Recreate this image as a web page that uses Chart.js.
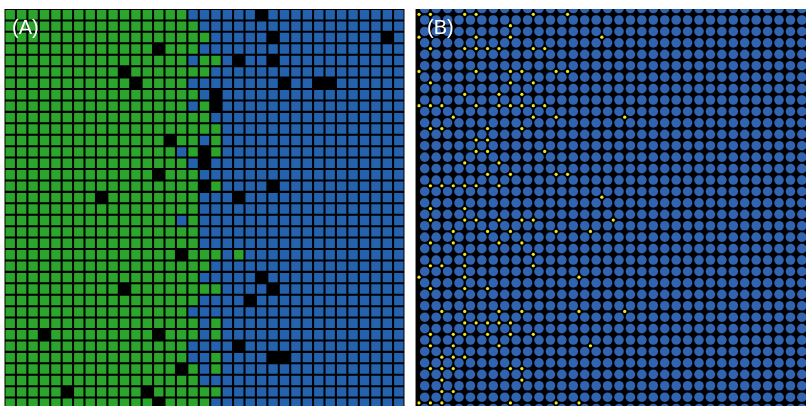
<!DOCTYPE html>
<html>
<head>
<meta charset="utf-8">
<script src="https://cdn.jsdelivr.net/npm/chart.js@4.4.1/dist/chart.umd.min.js"></script>
<style>
  html, body { margin: 0; padding: 0; background: #ffffff; width: 806px; height: 406px; overflow: hidden; }
  .panel { position: absolute; top: 0; }
  #panelA { left: 0; width: 410px; height: 406px; }
  #panelB { left: 410px; width: 396px; height: 406px; }
  .tag { position: absolute; top: 17px; color: #ffffff; font: 20px/20px "Liberation Sans", Arial, sans-serif; white-space: nowrap; }
</style>
</head>
<body>
<div class="panel" id="panelA"><canvas id="chartA" width="410" height="406"></canvas></div>
<div class="panel" id="panelB"><canvas id="chartB" width="396" height="406"></canvas></div>
<div class="tag" style="left:12px">(A)</div>
<div class="tag" style="left:427px">(B)</div>
<script>
// ---- Panel A: lattice state, one string per row (G = green phase, B = blue phase, K = vacancy)
const latticeStates = [
  "GGGGG GGGGG GGGGG GBBBB BBKBB BBBBB BBBBB",
  "GGGGG GGGGG GGGGG GGBBB BBBBB BBBBB BBBBB",
  "GGGGG GGGGG GGGGG GGGBB BBBKB BBBBB BBBKB",
  "GGGGG GGGGG GGGKG GGBBB BBBBB BBBBB BBBBB",
  "GGGGG GGGGG GGGGG GBGGB KBBKB BBBBB BBBBB",
  "GGGGG GGGGG KGGGG GGGBB BBBBB BBBBB BBBBB",
  "GGGGG GGGGG GKGGG GBBBB BBBBK BBKKB BBBBB",
  "GGGGG GGGGG GGGGG GGBKB BBBBB BBBBB BBBBB",
  "GGGGG GGGGG GGGGG GBGKB BBBBB BBBBB BBBBB",
  "GGGGG GGGGG GGGGG GGGBB BBBBB BBBBB BBBBB",
  "GGGGG GGGGG GGGGG GGGGB BBBBB BBBBB BBBBB",
  "GGGGG GGGGG GGGGK GGBGB BBBBB BBBBB BBBBB",
  "GGGGG GGGGG GGGGG BGKGB BBBBB BBBBB BBBBB",
  "GGGGG GGGGG GGGGG GBKBB BBBBB BBBBB BBBBB",
  "GGGGG GGGGG GGGKG GGBBB BBBBB BBBBB BBBBB",
  "GGGGG GGGGG GGGGG GGKGB BBBKB BBBBB BBBBB",
  "GGGGG GGGKG GGGGG GGBBB KBBBB BBBBB BBBBB",
  "GGGGG GGGGG GGGGG GGBBB BBBBB BBBBB BBBBB",
  "GGGGG GGGGG GGGGG BGBBB BBBBB BBBBB BBBBB",
  "GGGGG GGGGG GGGGG GGBBB BBBBB BBBBB BBBBB",
  "GGGGG GGGGG GGGGG GGBBB BBBBB BBBBB BBBBB",
  "GGGGG GGGGG GGGGG KGGGB GBBBB BBBBB BBBBB",
  "GGGGG GGGGG GGGGG GGGBB BBBBB BBBBB BBBBB",
  "GGGGG GGGGG GGGGG GGBBB BBKBB BBBBB BBBBB",
  "GGGGG GGGGG KGGGG GGGGB BBBKB BBBBB BBBBB",
  "GGGGG GGGGG GGGGG GGBBB BKBBB BBBBB BBBBB",
  "GGGGG GGGGG GGGGG GBBBB BBBBB BBBBB BBBBB",
  "GGGGG GGGGG GGGGG GGBGB BBBBB BBBBB BBBBB",
  "GGGKG GGGGG GGGKG GGBGB BBBBB BBBBB BBBBB",
  "GGGGG GGGGG GGGGG GBBBB KBBBB BBBBB BBBBB",
  "GGGGG GGGGG GGGGG GBBGB BBBKK BBBBB BBBBB",
  "GGGGG GGGGG GGGGG KGBGB BBBBB BBBBB BBBBB",
  "GGGGG GGGGG GGGGG GGBBB BBBBB BBBBB BBBBB",
  "GGGGG KGGGG GGKGG GGGGB BBBBB BBBBB BBBBB",
  "GGGGG GGGGG GGGKG GGGBB BBBBB BBBBB BBBBB"
];
const stateColors = { G: "#2ca52c", B: "#2462ae", K: "#000000" };

// ---- Panel B: close-packed sites and the occupied junctions between them
const siteColumns = [0, 1, 2, 3, 4, 5, 6, 7, 8, 9, 10, 11, 12, 13, 14, 15, 16,
  17, 18, 19, 20, 21, 22, 23, 24, 25, 26, 27, 28, 29, 30, 31, 32, 33];
const siteRows = [-1, 0, 1, 2, 3, 4, 5, 6, 7, 8, 9, 10, 11, 12, 13, 14, 15, 16,
  17, 18, 19, 20, 21, 22, 23, 24, 25, 26, 27, 28, 29, 30, 31, 32, 33, 34];
// junction j sits at the upper-left corner of site j (row, list of columns)
const junctionRows = [
  [0, [0, 1, 4, 5, 10, 13]],
  [1, [8]],
  [2, [0, 5, 8, 16]],
  [3, [1, 4, 5, 6, 7, 10, 11]],
  [5, [0, 5, 8, 9, 12, 13]],
  [6, [1, 8, 10]],
  [7, [4, 7, 9]],
  [8, [0, 1, 2, 5, 7, 8, 9, 10, 11]],
  [9, [3, 10, 12, 18]],
  [10, [1, 2, 6, 9]],
  [11, [5, 6]],
  [12, [5, 6, 11]],
  [13, [4, 7]],
  [14, [6, 8, 12, 13]],
  [15, [1, 2, 3, 4, 5, 7]],
  [16, [16]],
  [17, [1, 4]],
  [18, [1, 4, 5, 7, 9, 10, 17]],
  [19, [3, 6, 8, 12, 15]],
  [20, [1, 3, 7, 9]],
  [21, [4, 10]],
  [22, [1, 2, 4, 10]],
  [23, [0, 4, 14]],
  [24, [1, 4, 6]],
  [26, [2, 4, 7, 9, 14, 18]],
  [27, [4, 5, 6, 7, 8]],
  [28, [1, 3, 4, 6, 8, 10]],
  [29, [1, 3, 7, 15]],
  [30, [2, 3, 4]],
  [31, [1, 2, 3, 8, 9]],
  [32, [2, 9]],
  [33, [2, 3]],
  [34, [0, 1, 2, 8, 12, 14]]
];

// fills the black backing of a panel over its chart area
const panelBacking = {
  id: "panelBacking",
  beforeDatasetsDraw(chart, args, opts) {
    const { ctx, chartArea: a } = chart;
    ctx.save();
    ctx.fillStyle = "#000000";
    ctx.fillRect(a.left, a.top, a.right - a.left, a.bottom - a.top);
    if (opts.edge) {
      ctx.fillStyle = opts.edge;
      ctx.fillRect(a.left, a.top, 1, a.bottom - a.top);
    }
    ctx.restore();
  }
};

Chart.defaults.animation = false;
Chart.defaults.events = [];

const hiddenScale = (min, max, reverse) => ({
  type: "linear", min, max, reverse: !!reverse, display: false, grid: { display: false }
});

// Panel A datasets: one per state
const stateDatasets = Object.keys(stateColors).map(state => {
  const pts = [];
  latticeStates.forEach((line, r) => {
    line.replace(/ /g, "").split("").forEach((s, c) => {
      if (s === state) pts.push({ x: c, y: r });
    });
  });
  return {
    label: state,
    data: pts,
    clip: 0,
    pointStyle: "rect",
    pointRadius: 6.65,
    pointBorderWidth: 0,
    backgroundColor: stateColors[state],
    borderColor: stateColors[state]
  };
});

// chart area of A: x 4.5..404.5, y 9..406 ; cell pitch 400/35
new Chart(document.getElementById("chartA"), {
  type: "scatter",
  data: { datasets: stateDatasets },
  options: {
    responsive: false,
    devicePixelRatio: 1,
    layout: { padding: { left: 4.5, right: 5.5, top: 9, bottom: 0 }, autoPadding: false },
    plugins: {
      legend: { display: false },
      tooltip: { enabled: false },
      panelBacking: {}
    },
    scales: {
      x: hiddenScale(-0.5, 34.5),
      y: hiddenScale(-0.5, 34.235, true)
    }
  },
  plugins: [panelBacking]
});

// Panel B datasets
const sitePoints = [];
siteRows.forEach(r => siteColumns.forEach(c => sitePoints.push({ x: c, y: r })));
const junctionPoints = [];
junctionRows.forEach(([j, cols]) => cols.forEach(k => junctionPoints.push({ x: k - 0.5, y: j - 0.5 })));

// chart area of B: x 415..806, y 9.3..406
new Chart(document.getElementById("chartB"), {
  type: "scatter",
  data: {
    datasets: [
      {
        label: "junctions",
        data: junctionPoints,
        clip: 0,
        pointStyle: "circle",
        pointRadius: 1.6,
        pointBorderWidth: 0,
        backgroundColor: "#f2e81a",
        borderColor: "#f2e81a",
        order: 0
      },
      {
        label: "sites",
        data: sitePoints,
        clip: 0,
        pointStyle: "circle",
        pointRadius: 4.8,
        pointBorderWidth: 0,
        backgroundColor: "#3063b0",
        borderColor: "#3063b0",
        order: 1
      }
    ]
  },
  options: {
    responsive: false,
    devicePixelRatio: 1,
    layout: { padding: { left: 5, right: 0, top: 9, bottom: 0 }, autoPadding: false },
    plugins: {
      legend: { display: false },
      tooltip: { enabled: false },
      panelBacking: { edge: "#8a8a8a" }
    },
    scales: {
      x: hiddenScale(-0.849, 33.36),
      y: hiddenScale(-0.962, 33.77, true)
    }
  },
  plugins: [panelBacking]
});
</script>
</body>
</html>
